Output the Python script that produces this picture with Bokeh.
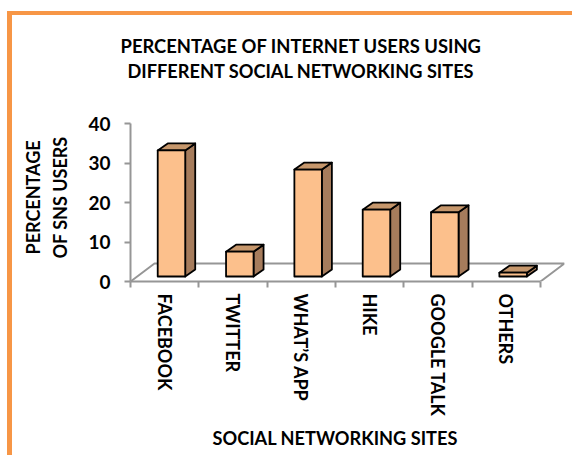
from math import pi
from bokeh.plotting import figure
from bokeh.models import Range1d, LinearAxis, FixedTicker, Title
from bokeh.embed import file_html
from bokeh.resources import INLINE

categories = ["FACEBOOK", "TWITTER", "WHAT\u2019S APP", "HIKE", "GOOGLE TALK", "OTHERS"]
values = [33, 6.5, 28, 17.5, 16.8, 1]
y_ticks = [0, 10, 20, 30, 40]
title_lines = ["PERCENTAGE OF INTERNET USERS USING", "DIFFERENT SOCIAL NETWORKING SITES"]
y_title_lines = ["PERCENTAGE", "OF SNS USERS"]
x_title = "SOCIAL NETWORKING SITES"

FONT = "Lato"
GREY = "#969696"
FACE, TOP, SIDE = "#FCC08C", "#C6976C", "#A67C5C"
ORANGE = "#F79646"

n = len(categories)
PX_X = 68.33            # pixels per category
PX_Y = 158 / 40         # pixels per percentage point on the axis
PX_B = 3.82             # pixels per percentage point on the bars (perspective)
dx, dy = 10 / PX_X, 7 / PX_B          # bar depth in data units
fdx, fdy = 24 / PX_X, 18 / PX_Y       # floor depth in data units
bar_w = 27.5 / PX_X
bar_off = 6.8 / PX_X

p = figure(width=579, height=455, frame_width=434, frame_height=158,
           x_range=Range1d(0, n + fdx), y_range=Range1d(0, 40),
           min_border_left=130, min_border_top=123, min_border_right=15, min_border_bottom=174,
           output_backend="svg", toolbar_location=None, x_axis_location=None, y_axis_location=None,
           background_fill_color=None, border_fill_color=None)
p.outline_line_color = None
p.grid.visible = False
p.extra_y_ranges = {"bars": Range1d(-5 / PX_B, 153 / PX_B)}
p.styles = {
    "background-image": f"linear-gradient({ORANGE},{ORANGE}),linear-gradient({ORANGE},{ORANGE})",
    "background-size": "565px 4px,5px 444px",
    "background-position": "7px 11px,7px 11px",
    "background-repeat": "no-repeat",
}

ya = LinearAxis(ticker=FixedTicker(ticks=y_ticks), axis_line_color=GREY, axis_line_width=2,
                major_tick_line_color=GREY, major_tick_line_width=2, major_tick_out=6, major_tick_in=0,
                minor_tick_line_color=None, major_label_standoff=14,
                major_label_text_font=FONT, major_label_text_font_style="bold",
                major_label_text_font_size="19px", major_label_text_color="black")
p.add_layout(ya, "left")

xa = LinearAxis(ticker=FixedTicker(ticks=[i + 0.5 for i in range(n)], minor_ticks=list(range(n + 1))),
                major_label_overrides={i + 0.5: c for i, c in enumerate(categories)},
                bounds=(0, n), axis_line_color=GREY, axis_line_width=2,
                major_tick_line_color=None, major_tick_out=6, major_tick_in=0,
                minor_tick_line_color=GREY, minor_tick_line_width=2, minor_tick_out=6, minor_tick_in=0,
                major_label_orientation=-pi / 2, major_label_standoff=6,
                major_label_text_font=FONT, major_label_text_font_style="bold",
                major_label_text_font_size="18px", major_label_text_color="black")
p.add_layout(xa, "below")

p.line([0, fdx, n + fdx, n], [0, fdy, fdy, 0], line_color=GREY, line_width=2)

lefts = [i + bar_off + (1 - bar_w) / 2 for i in range(n)]
rights = [l + bar_w for l in lefts]
tops_x = [[l, l + dx, r + dx, r] for l, r in zip(lefts, rights)]
tops_y = [[v, v + dy, v + dy, v] for v in values]
side_x = [[r, r + dx, r + dx, r] for r in rights]
side_y = [[0, dy, v + dy, v] for v in values]
style = dict(line_color="black", line_width=1.8, line_join="round", y_range_name="bars")
p.patches(side_x, side_y, fill_color=SIDE, **style)
p.patches(tops_x, tops_y, fill_color=TOP, **style)
p.quad(left=lefts, right=rights, bottom=[0] * n, top=values, fill_color=FACE, **style)

def title(s, side, offset, standoff, size="18px"):
    p.add_layout(Title(text=s, align="left", offset=offset, standoff=standoff, text_font=FONT,
                       text_font_style="bold", text_font_size=size, text_color="black"), side)

title(title_lines[1], "above", -3, 84, "18.2px")
title(title_lines[0], "above", -10, -82, "18.4px")
title(y_title_lines[1], "left", 23, 30)
title(y_title_lines[0], "left", 27, -24)
title(x_title, "below", 82, 10, "18.2px")

open("out.html", "w").write(file_html(p, INLINE))
